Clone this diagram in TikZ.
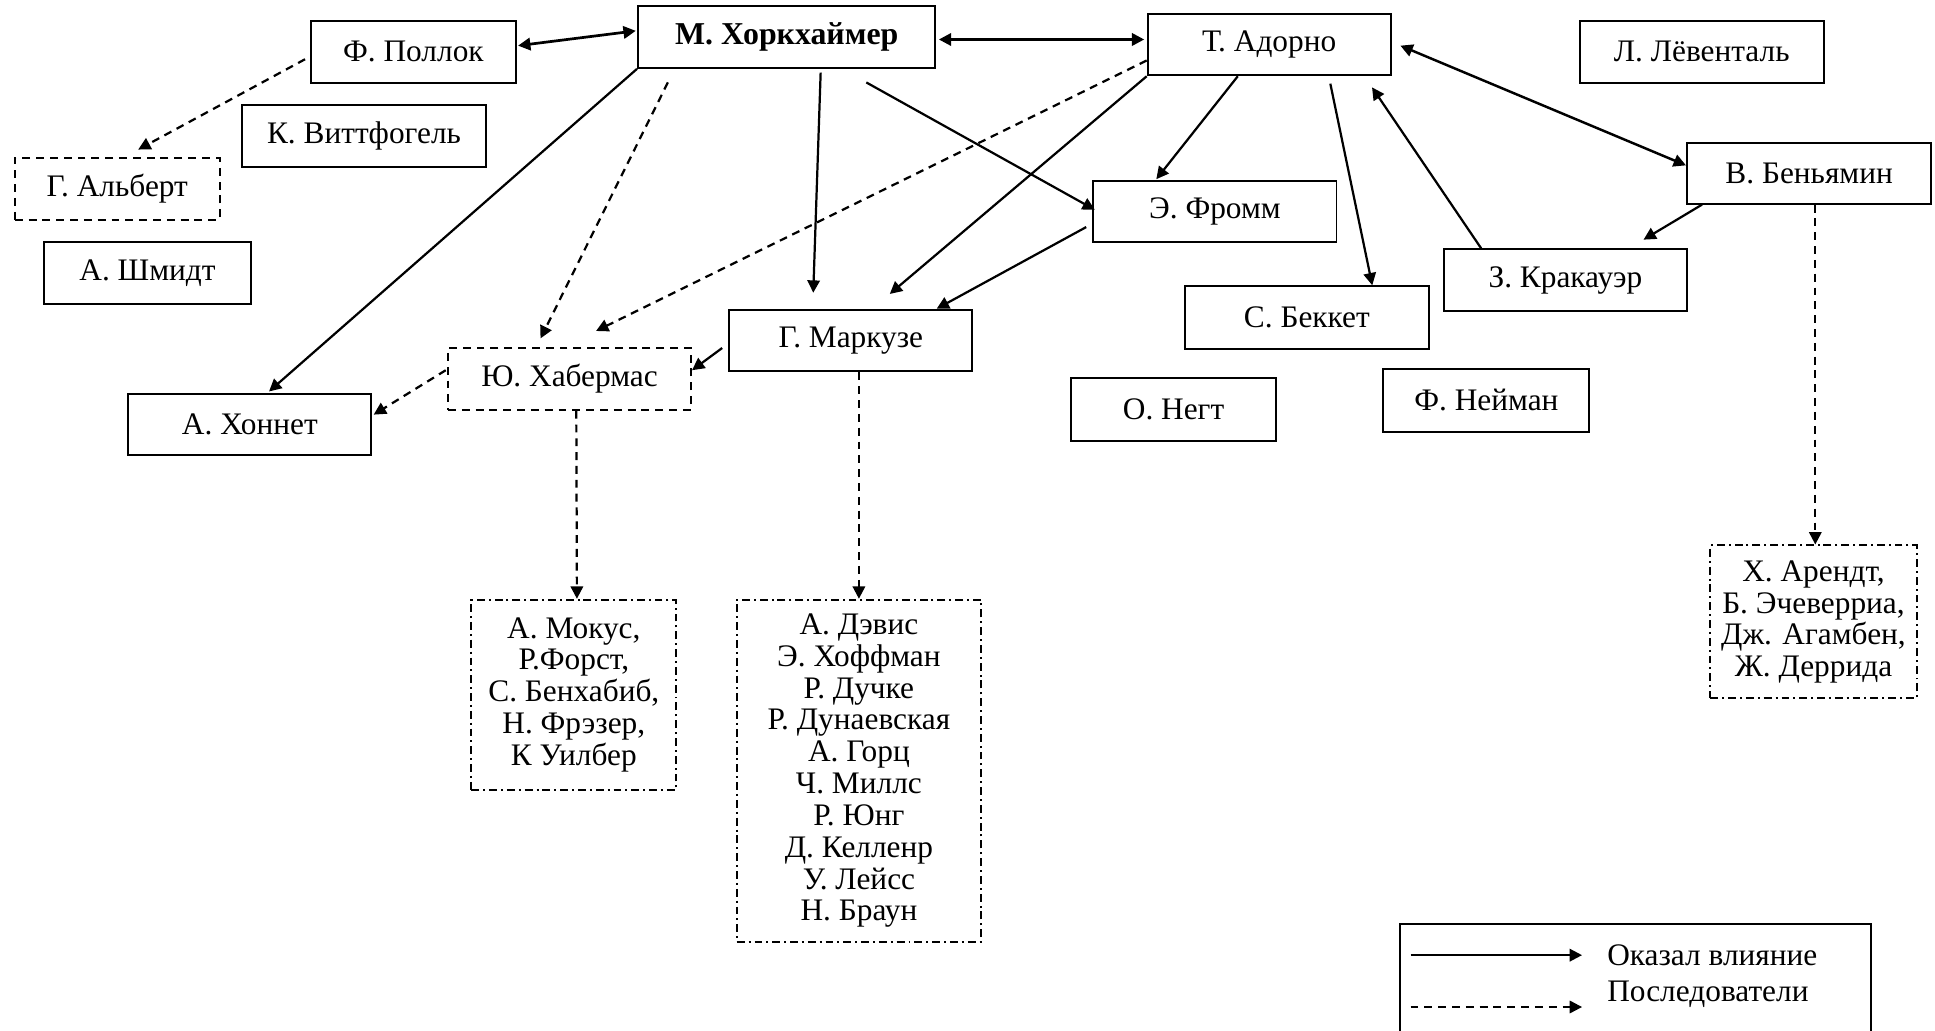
\documentclass[tikz,border=0pt]{standalone}
\usepackage{fontspec}
\setmainfont{Liberation Serif}
\usetikzlibrary{arrows.meta,calc}
\begin{document}
\begin{tikzpicture}[x=0.5pt,y=-0.5pt,
  txt/.style={font=\fontsize{12.7}{12.9}\selectfont},
  box/.style={draw, line width=0.8pt, rectangle, inner sep=0pt, align=center, txt},
  sz/.style 2 args={minimum width=#1*0.5pt, minimum height=#2*0.5pt},
  dbox/.style={box, dash pattern=on 3.2pt off 2.4pt},
  ddbox/.style={box, dash pattern=on 3.2pt off 1.6pt on 0.8pt off 1.6pt},
  infl/.style={line width=0.9pt, -{Triangle[length=5pt,width=5pt]}},
  foll/.style={infl, dash pattern=on 3.2pt off 2.4pt},
  mutual/.style={line width=1.1pt, {Triangle[length=5pt,width=5pt]}-{Triangle[length=5pt,width=5pt]}},
]
\useasboundingbox (0,0) rectangle (1568,835);

% boxes
\node[box, sz={166}{50}] (pollock) at (335,42) {Ф. Поллок};
\node[box, sz={241}{50}, font=\fontsize{12.9}{12.9}\selectfont\bfseries] (hork) at (637.5,30) {М. Хоркхаймер};
\node[box, sz={197}{50}] (adorno) at (1028.5,36) {Т. Адорно};
\node[box, sz={198}{50}] (lowenthal) at (1379,42) {Л. Лёвенталь};
\node[box, sz={198}{49}] (benjamin) at (1466,140.5) {В. Беньямин};
\node[box, sz={197}{50}] (krakauer) at (1268.5,227) {З. Кракауэр};
\node[box, sz={198}{51}] (beckett) at (1059,257.5) {С. Беккет};
\node[box, sz={167}{51}] (neumann) at (1204.5,324.5) {Ф. Нейман};
\node[box, sz={166}{51}] (negt) at (951,331.5) {О. Негт};
\node[box, sz={197}{49}] (fromm) at (984.5,171.5) {Э. Фромм};
\node[box, sz={197}{50}] (marcuse) at (689.5,276) {Г. Маркузе};
\node[dbox, sz={197}{50}] (habermas) at (461.5,307) {Ю. Хабермас};
\node[box, sz={197}{50}] (honnet) at (202.5,344) {А. Хоннет};
\node[box, sz={198}{50}] (wittfogel) at (295,110) {К. Виттфогель};
\node[dbox, sz={166}{50}] (albert) at (95,153) {Г. Альберт};
\node[box, sz={167}{50}] (schmidt) at (119.5,221) {А. Шмидт};

\node[ddbox, sz={166}{154}] (habf) at (465,563) {А. Мокус,\\Р.Форст,\\С. Бенхабиб,\\Н. Фрэзер,\\К Уилбер};
\node[ddbox, sz={198}{277}] (marf) at (696,624.5) {А. Дэвис\\Э. Хоффман\\Р. Дучке\\Р. Дунаевская\\А. Горц\\Ч. Миллс\\Р. Юнг\\Д. Келленр\\У. Лейсс\\Н. Браун};
\node[ddbox, sz={167}{124}] (benf) at (1469.5,504) {Х. Арендт,\\Б. Эчеверриа,\\Дж. Агамбен,\\Ж. Деррида};

% connectors
\draw[mutual] ($(pollock.east)+(1,-5)$) -- ($(hork.west)+(-1,-5)$);
\draw[mutual] ($(hork.east)+(2,2)$) -- ($(adorno.west)+(-2,-4)$);
\draw[mutual, line width=1pt] ($(adorno.east)+(7,1)$) -- ($(benjamin.west)+(0,-6.5)$);
\draw[infl] ($(krakauer.north west)+(31,0)$) -- ($(adorno.south east)+(-16,9)$);
\draw[infl] ($(adorno.south)+(49.5,6)$) -- ($(beckett.north)+(53,0)$);
\draw[infl] ($(adorno.south)+(-25.5,0)$) -- ($(fromm.north)+(-47.5,-1)$);
\draw[infl] (adorno.south west) -- ($(marcuse.north)+(31.5,-12)$);
\draw[foll] ($(adorno.west)+(0,13)$) -- ($(habermas.north)+(21.5,-13)$);
\draw[foll] ($(hork.south west)+(25,11)$) -- ($(habermas.north)+(-23.5,-7)$);
\draw[infl] (hork.south west) -- ($(honnet.north)+(15.5,-1)$);
\draw[infl] ($(hork.south)+(27.5,3)$) -- ($(marcuse.north)+(-30.5,-13)$);
\draw[infl] ($(hork.south)+(64.5,11)$) -- ($(fromm.west)+(2,-1.5)$);
\draw[infl] ($(fromm.west)+(-5,12.5)$) -- ($(marcuse.north)+(69.5,0)$);
\draw[infl] ($(marcuse.west)+(-5,6)$) -- ($(habermas.east)+(0,-7)$);
\draw[foll] ($(habermas.west)+(-1,-7)$) -- ($(honnet.east)+(1,-8)$);
\draw[foll] ($(pollock.west)+(-4,6)$) -- ($(albert.north)+(17,-6)$);
\draw[foll] ($(habermas.south)+(5.5,0)$) -- ($(habf.north)+(2.5,0)$);
\draw[foll] ($(marcuse.south)+(6.5,0)$) -- (marf.north);
\draw[foll] ($(benjamin.south)+(5,0)$) -- ($(benf.north)+(1.5,0)$);
\draw[infl] ($(benjamin.south west)+(13,0)$) -- ($(krakauer.north east)+(-36,-7)$);

% legend
\node[draw, line width=0.8pt, inner sep=0pt, minimum width=381*0.5pt, minimum height=110*0.5pt, anchor=north west] (legend) at (1134,748) {};
\coordinate (l1a) at (1143,774);
\coordinate (l1b) at (1282,774);
\coordinate (l2a) at (1143,816);
\coordinate (l2b) at (1282,816);
\draw[infl] (l1a) -- (l1b);
\draw[foll] (l2a) -- (l2b);
\node[txt, anchor=west, inner sep=0pt] (lt1) at (1302,774) {Оказал влияние};
\node[txt, anchor=west, inner sep=0pt] (lt2) at (1302,806) {Последователи};
\end{tikzpicture}
\end{document}
